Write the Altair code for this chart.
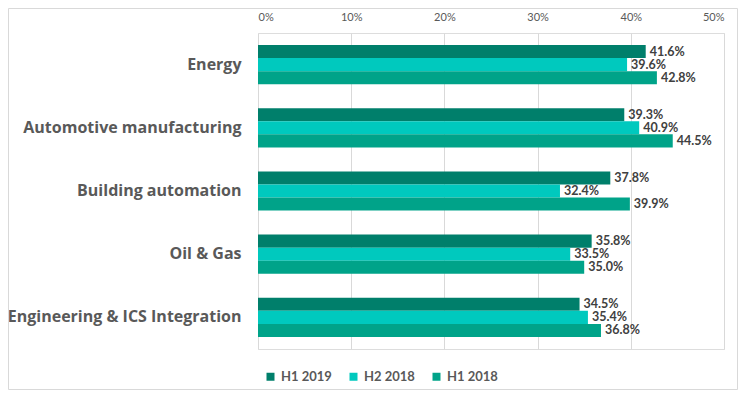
import altair as alt
import pandas as pd

categories = ["Energy", "Automotive manufacturing", "Building automation", "Oil & Gas", "Engineering & ICS Integration"]
series = ["H1 2019", "H2 2018", "H1 2018"]
h1_2019 = [41.6, 39.3, 37.8, 35.8, 34.5]
h2_2018 = [39.6, 40.9, 32.4, 33.5, 35.4]
h1_2018 = [42.8, 44.5, 39.9, 35.0, 36.8]
colors = ["#007F6B", "#00C9BE", "#00A389"]
tick_values = [0, 10, 20, 30, 40, 50]

rows = []
for s, vals in zip(series, [h1_2019, h2_2018, h1_2018]):
    for c, v in zip(categories, vals):
        rows.append({"category": c, "series": s, "value": v, "label": f"{v:.1f}%"})
df = pd.DataFrame(rows)

FONT = "Lato"

y_enc = alt.Y("category:N", sort=categories,
              scale=alt.Scale(paddingInner=0.38, paddingOuter=0.19),
              axis=alt.Axis(title=None, domain=False, ticks=False, labelPadding=17,
                            labelFontSize=16, labelFontWeight="bold", labelColor="#595959",
                            labelFont="Open Sans", labelLimit=300))
yoff = alt.YOffset("series:N", sort=series)
x_enc = alt.X("value:Q", scale=alt.Scale(domain=[0, 50], nice=False),
              axis=alt.Axis(orient="top", title=None, values=tick_values,
                            labelExpr="datum.value + '%'", domain=False, ticks=False,
                            labelPadding=11, labelFontSize=11, labelColor="#595959",
                            labelFont=FONT, gridColor="#d9d9d9", gridWidth=1))

bars = alt.Chart(df).mark_bar().encode(
    x=x_enc, y=y_enc, yOffset=yoff,
    color=alt.Color("series:N", sort=series,
                    scale=alt.Scale(domain=series, range=colors),
                    legend=alt.Legend(title=None, orient="none", direction="horizontal",
                                      legendX=6, legendY=337, symbolType="square",
                                      symbolSize=64, symbolStrokeWidth=0, labelFontSize=13,
                                      labelFontWeight="bold", labelColor="#595959",
                                      labelFont=FONT, columnPadding=15, labelOffset=4)),
)

texts = alt.Chart(df).mark_text(align="left", baseline="middle", dx=4, fontSize=12.5,
                                fontWeight="bold", color="#404040", font=FONT).encode(
    x="value:Q", y=alt.Y("category:N", sort=categories), yOffset=yoff, text="label:N")

border = alt.Chart(pd.DataFrame({"a": [0]})).mark_rect(fill=None, stroke="#d9d9d9", strokeWidth=1).encode(
    x=alt.value(-249.5), x2=alt.value(479.5), y=alt.value(-24.5), y2=alt.value(356.5))

chart = alt.layer(bars, texts, border).properties(
    width=466, height=316,
    padding={"left": 250, "top": 25, "right": 14, "bottom": 41},
    autosize=alt.AutoSizeParams(type="none"),
).configure_view(stroke=None).configure(background="white")

chart.save("out.html", embed_options={"renderer": "svg", "actions": False})
